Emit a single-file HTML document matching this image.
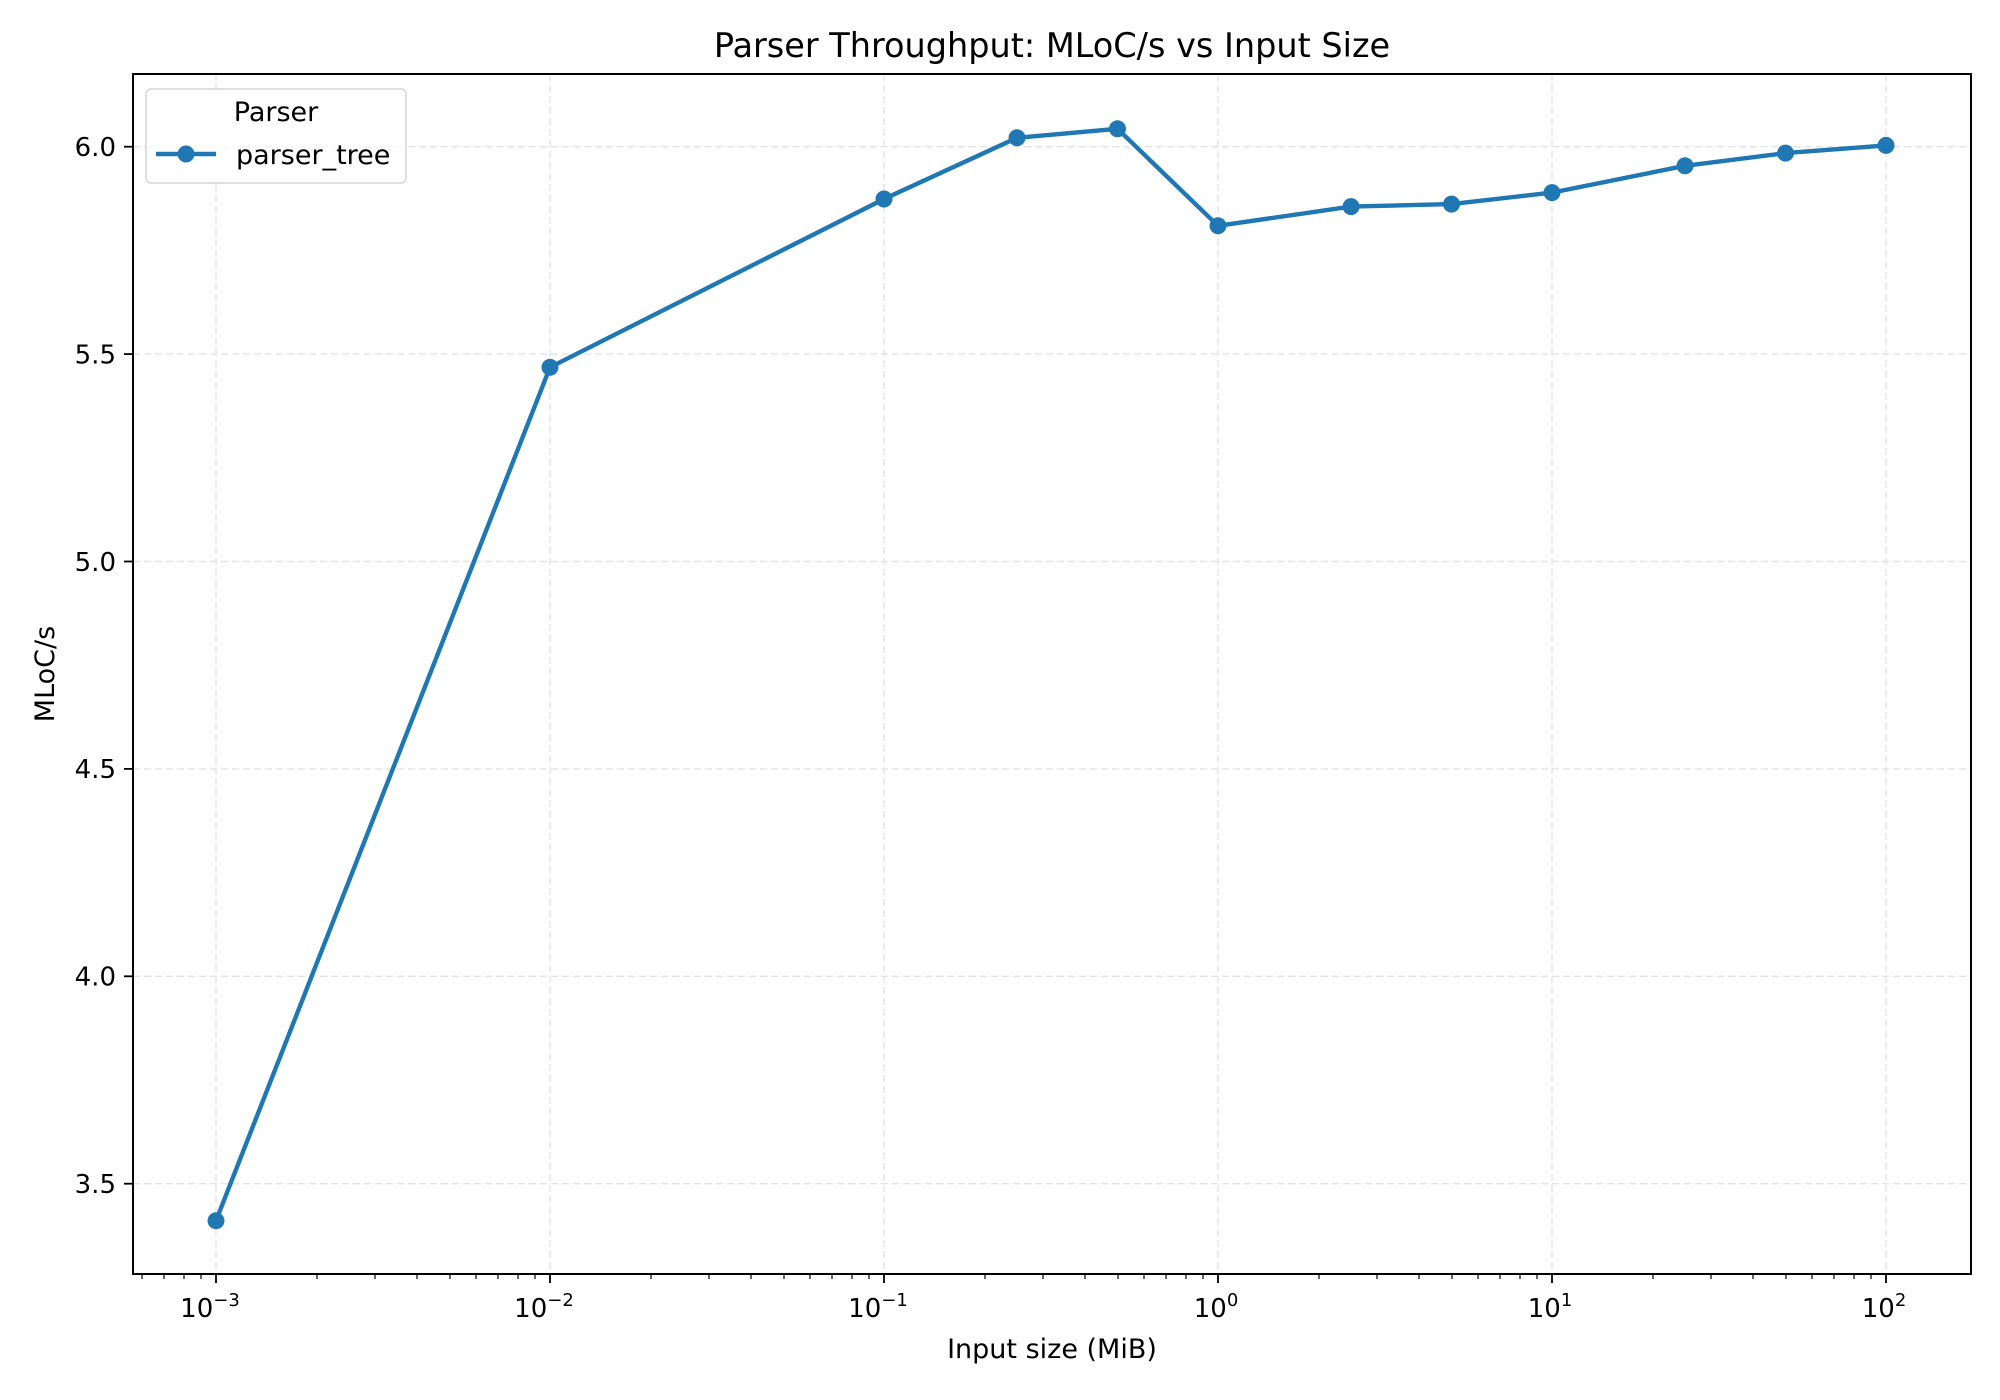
<!DOCTYPE html>
<html><head><meta charset="utf-8"><style>body{margin:0;background:#fff}svg{display:block}</style></head><body>
<svg width="2000" height="1400" xmlns="http://www.w3.org/2000/svg" font-family="DejaVu Sans, Liberation Sans, sans-serif">
<rect width="2000" height="1400" fill="#fff"/>
<g stroke="#e3e3e3" stroke-width="1.4" stroke-dasharray="7,4">
<line x1="216" y1="74" x2="216" y2="1274"/><line x1="550" y1="74" x2="550" y2="1274"/><line x1="884" y1="74" x2="884" y2="1274"/><line x1="1218" y1="74" x2="1218" y2="1274"/><line x1="1552" y1="74" x2="1552" y2="1274"/><line x1="1886" y1="74" x2="1886" y2="1274"/>
<line x1="133" y1="146.7" x2="1971" y2="146.7"/><line x1="133" y1="354.1" x2="1971" y2="354.1"/><line x1="133" y1="561.5" x2="1971" y2="561.5"/><line x1="133" y1="768.9" x2="1971" y2="768.9"/><line x1="133" y1="976.3" x2="1971" y2="976.3"/><line x1="133" y1="1183.7" x2="1971" y2="1183.7"/>
</g>
<polyline fill="none" stroke="#1f77b4" stroke-width="4.4" stroke-linejoin="round" points="216,1220.7 550,367.3 884,199 1017,137.8 1117.5,128.8 1218,225.8 1351,206.6 1451.5,204.1 1552,192.6 1685,165.8 1785.5,153.1 1886,145.4"/>
<g fill="#1f77b4">
<circle cx="216" cy="1220.7" r="8.5"/><circle cx="550" cy="367.3" r="8.5"/><circle cx="884" cy="199" r="8.5"/><circle cx="1017" cy="137.8" r="8.5"/><circle cx="1117.5" cy="128.8" r="8.5"/><circle cx="1218" cy="225.8" r="8.5"/><circle cx="1351" cy="206.6" r="8.5"/><circle cx="1451.5" cy="204.1" r="8.5"/><circle cx="1552" cy="192.6" r="8.5"/><circle cx="1685" cy="165.8" r="8.5"/><circle cx="1785.5" cy="153.1" r="8.5"/><circle cx="1886" cy="145.4" r="8.5"/>
</g>
<rect x="133" y="74" width="1838" height="1200" fill="none" stroke="#000" stroke-width="2"/>
<g stroke="#000" stroke-width="1.8">
<line x1="216" y1="1274" x2="216" y2="1283"/><line x1="550" y1="1274" x2="550" y2="1283"/><line x1="884" y1="1274" x2="884" y2="1283"/><line x1="1218" y1="1274" x2="1218" y2="1283"/><line x1="1552" y1="1274" x2="1552" y2="1283"/><line x1="1886" y1="1274" x2="1886" y2="1283"/>
<line x1="124" y1="146.7" x2="133" y2="146.7"/><line x1="124" y1="354.1" x2="133" y2="354.1"/><line x1="124" y1="561.5" x2="133" y2="561.5"/><line x1="124" y1="768.9" x2="133" y2="768.9"/><line x1="124" y1="976.3" x2="133" y2="976.3"/><line x1="124" y1="1183.7" x2="133" y2="1183.7"/>
</g>
<g stroke="#000" stroke-width="1.2">
<path d="M142,1274v5M164,1274v5M184,1274v5M201,1274v5
M317,1274v5M375,1274v5M417,1274v5M450,1274v5M476,1274v5M498,1274v5M518,1274v5M535,1274v5
M651,1274v5M709,1274v5M751,1274v5M784,1274v5M810,1274v5M832,1274v5M852,1274v5M869,1274v5
M985,1274v5M1043,1274v5M1085,1274v5M1118,1274v5M1144,1274v5M1166,1274v5M1186,1274v5M1203,1274v5
M1319,1274v5M1377,1274v5M1419,1274v5M1452,1274v5M1478,1274v5M1500,1274v5M1520,1274v5M1537,1274v5
M1653,1274v5M1711,1274v5M1753,1274v5M1786,1274v5M1812,1274v5M1834,1274v5M1854,1274v5M1871,1274v5"/>
</g>
<g font-size="26" fill="#000" text-anchor="end">
<text x="116" y="156">6.0</text><text x="116" y="363.4">5.5</text><text x="116" y="570.8">5.0</text><text x="116" y="778.2">4.5</text><text x="116" y="985.6">4.0</text><text x="116" y="1193">3.5</text>
</g>
<g font-size="26" fill="#000">
<text x="210" y="1317" text-anchor="middle">10<tspan font-size="18" dy="-11">−3</tspan></text>
<text x="544" y="1317" text-anchor="middle">10<tspan font-size="18" dy="-11">−2</tspan></text>
<text x="878" y="1317" text-anchor="middle">10<tspan font-size="18" dy="-11">−1</tspan></text>
<text x="1216" y="1317" text-anchor="middle">10<tspan font-size="18" dy="-11">0</tspan></text>
<text x="1550" y="1317" text-anchor="middle">10<tspan font-size="18" dy="-11">1</tspan></text>
<text x="1884" y="1317" text-anchor="middle">10<tspan font-size="18" dy="-11">2</tspan></text>
</g>
<text x="1052" y="1358" font-size="27" text-anchor="middle">Input size (MiB)</text>
<text transform="translate(54,674) rotate(-90)" font-size="27" text-anchor="middle">MLoC/s</text>
<text x="1052" y="57" font-size="33.5" text-anchor="middle">Parser Throughput: MLoC/s vs Input Size</text>
<rect x="146" y="89" width="260" height="94" rx="5" fill="#fff" fill-opacity="0.8" stroke="#d5d5d5" stroke-width="1.5"/>
<text x="276" y="121" font-size="27" text-anchor="middle">Parser</text>
<line x1="156" y1="154" x2="216" y2="154" stroke="#1f77b4" stroke-width="4.4"/>
<circle cx="186" cy="154" r="8.5" fill="#1f77b4"/>
<text x="236" y="164" font-size="27">parser_tree</text>
</svg>
</body></html>
